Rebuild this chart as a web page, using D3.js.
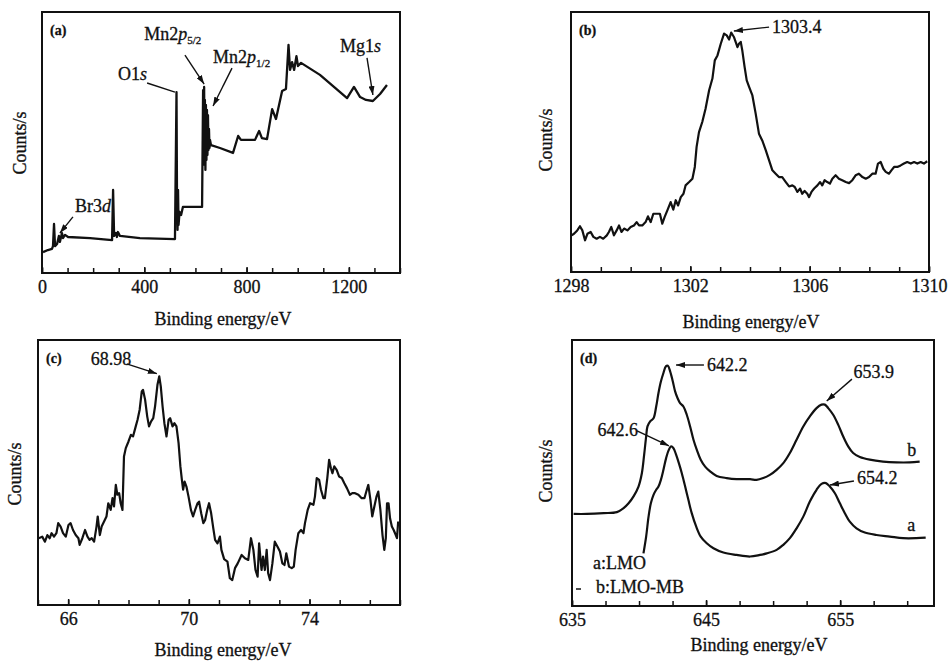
<!DOCTYPE html>
<html>
<head>
<meta charset="utf-8">
<script src="https://cdn.jsdelivr.net/npm/d3@7"></script>
<style>
  body { margin: 0; background: #fff; }
  text { font-family: "Liberation Serif", "Times New Roman", serif; fill: #111; stroke: #111; stroke-width: 0.3px; }
</style>
</head>
<body>
<svg id="fig" width="948" height="662"></svg>
<script>
// ---- data ----
// (a) survey spectrum
var aEnergy = [4,23,39,43,47,51,59,66,70,78,82,90,102,188,274,278,282,289,293,297,305,383,520,526,528,530,532,534,538,544,551,626,630,632,634,636,637,639,641,643,645,647,649,651,653,655,657,661,696,747,767,778,833,849,860,880,900,915,939,954,964,970,978,986,995,1001,1013,1087,1193,1220,1244,1267,1294,1322,1349];
var aCounts = [8.0,8.8,9.2,10.3,18.8,10.3,11.1,14.2,11.9,15.3,13.4,14.6,13.8,13.4,12.6,31.8,14.2,15.3,13.8,15.7,14.2,13.4,13.0,69.3,28.0,16.5,31.8,18.4,23.4,22.2,25.3,25.3,70.1,43.3,71.3,41.4,66.3,39.5,64.4,43.3,62.5,45.2,60.5,47.1,55.2,47.9,51.0,49.0,47.9,46.0,52.5,51.0,51.0,54.4,51.7,51.3,62.8,59.0,69.7,70.5,87.4,77.8,80.8,77.8,83.1,79.3,80.5,75.9,67.0,71.3,67.4,66.3,65.9,68.6,72.0];
var aTicks = [0, 400, 800, 1200];

// (b) Mg1s
var bEnergy = [1298.02,1298.10,1298.21,1298.30,1298.38,1298.47,1298.55,1298.66,1298.75,1298.86,1298.97,1299.08,1299.20,1299.27,1299.35,1299.44,1299.53,1299.61,1299.69,1299.78,1299.89,1300.00,1300.11,1300.20,1300.28,1300.39,1300.50,1300.58,1300.67,1300.76,1300.87,1300.98,1301.06,1301.14,1301.23,1301.34,1301.43,1301.51,1301.59,1301.68,1301.77,1301.84,1301.96,1302.07,1302.15,1302.21,1302.29,1302.40,1302.51,1302.63,1302.74,1302.82,1302.91,1303.02,1303.13,1303.22,1303.30,1303.37,1303.46,1303.58,1303.63,1303.69,1303.74,1303.82,1303.89,1303.97,1304.08,1304.19,1304.30,1304.41,1304.53,1304.64,1304.75,1304.86,1304.97,1305.08,1305.20,1305.31,1305.42,1305.50,1305.59,1305.68,1305.75,1305.83,1305.92,1305.98,1306.06,1306.15,1306.26,1306.35,1306.42,1306.50,1306.59,1306.68,1306.76,1306.87,1306.98,1307.09,1307.21,1307.32,1307.43,1307.54,1307.65,1307.77,1307.88,1307.99,1308.10,1308.21,1308.29,1308.38,1308.47,1308.55,1308.66,1308.74,1308.83,1308.94,1309.05,1309.16,1309.27,1309.39,1309.50,1309.61,1309.72,1309.83,1309.94];
var bCounts = [14.1,14.7,16.0,17.6,16.0,12.2,14.7,15.4,13.5,12.8,13.5,12.8,14.1,15.4,17.3,14.1,16.0,17.9,15.4,16.7,16.0,17.3,17.9,19.2,17.9,17.9,19.2,21.4,19.2,22.4,22.4,22.4,18.6,21.2,23.7,26.9,24.0,27.6,25.6,28.8,30.1,33.3,34.6,35.9,40.4,48.1,53.8,57.7,62.8,69.9,74.4,81.4,83.3,87.8,91.7,91.0,89.4,92.1,90.4,86.5,87.8,88.5,85.3,78.8,73.7,71.2,67.9,60.9,53.2,50.6,46.8,42.9,39.1,37.8,36.5,36.5,34.6,32.9,33.3,32.7,30.8,32.1,30.1,31.2,30.1,28.8,30.8,32.1,33.3,34.6,33.3,35.3,34.6,34.0,35.9,37.2,35.9,35.3,34.6,34.2,35.3,37.2,37.8,36.5,35.9,36.5,37.8,37.8,41.7,42.3,39.7,38.5,37.8,39.1,40.4,40.4,41.0,41.7,42.3,41.7,42.3,41.7,42.3,41.7,42.6];
var bTicks = [1298, 1302, 1306, 1310];

// (c) Br3d
var cEnergy = [65.03,65.14,65.23,65.31,65.39,65.45,65.53,65.61,65.67,65.75,65.83,65.92,66.01,66.08,66.16,66.25,66.34,66.38,66.47,66.56,66.64,66.71,66.78,66.86,66.94,66.98,67.05,67.11,67.19,67.27,67.33,67.41,67.47,67.52,67.58,67.63,67.69,67.74,67.80,67.85,67.91,68.00,68.08,68.15,68.24,68.30,68.37,68.44,68.48,68.55,68.62,68.68,68.75,68.82,68.88,68.96,69.02,69.07,69.13,69.19,69.26,69.33,69.38,69.46,69.52,69.59,69.66,69.72,69.77,69.81,69.86,69.92,69.99,70.07,70.14,70.21,70.29,70.34,70.41,70.48,70.54,70.61,70.67,70.74,70.81,70.87,70.95,71.03,71.08,71.17,71.28,71.36,71.44,71.53,71.62,71.75,71.86,71.97,72.06,72.14,72.21,72.28,72.33,72.41,72.46,72.52,72.58,72.63,72.69,72.77,72.85,72.94,73.02,73.10,73.17,73.23,73.32,73.41,73.48,73.54,73.63,73.72,73.80,73.85,73.94,74.02,74.13,74.18,74.24,74.32,74.38,74.46,74.51,74.59,74.65,74.71,74.76,74.82,74.90,74.98,75.07,75.15,75.24,75.34,75.42,75.51,75.62,75.73,75.82,75.90,75.95,76.02,76.08,76.15,76.22,76.28,76.35,76.42,76.48,76.53,76.57,76.62,76.67,76.73,76.79,76.86,76.90,76.94];
var cCounts = [25.2,25.8,23.9,26.4,25.2,27.1,25.8,27.1,30.9,29.6,27.1,25.8,30.2,30.9,28.3,26.4,25.2,22.7,25.2,28.3,25.8,24.6,25.2,23.9,29.6,33.4,26.4,29.6,31.5,33.4,38.4,35.9,40.3,37.2,45.3,41.6,42.2,38.4,35.9,56.0,59.2,61.7,64.2,63.6,67.4,69.9,73.7,80.6,81.2,77.5,71.2,67.4,69.3,70.5,74.9,83.1,86.3,82.5,74.9,68.6,63.6,69.9,70.5,67.4,68.6,67.4,61.1,52.3,47.2,43.5,46.6,44.7,40.9,35.9,33.4,35.9,38.4,39.0,34.6,30.9,32.1,35.9,38.4,34.6,29.0,24.6,23.3,25.8,20.8,17.3,16.4,10.1,9.4,13.9,15.7,18.9,17.6,17.0,25.2,20.8,13.2,10.7,23.3,13.2,18.3,13.2,20.8,12.0,9.4,15.7,23.9,22.0,20.2,15.7,15.1,19.5,14.5,13.9,14.5,20.8,27.1,28.3,27.1,30.9,35.9,38.4,37.8,40.9,47.9,47.2,43.5,40.3,40.3,47.9,54.8,51.6,49.7,52.3,51.0,48.5,47.9,46.0,44.1,41.6,42.2,42.2,41.6,40.3,40.3,43.5,45.3,39.7,33.4,37.2,40.9,42.8,35.9,26.4,20.8,25.2,38.4,38.4,32.7,29.6,28.3,26.4,25.2,31.5];
var cTicks = [66, 70, 74];

// (d) Mn2p, a: LMO, b: LMO-MB
var dEnergyA = [640.33,640.53,640.71,640.88,641.08,641.28,641.45,641.63,641.82,642.02,642.22,642.39,642.57,642.77,642.97,643.19,643.44,643.68,643.93,644.26,644.60,645.05,645.55,646.29,647.28,648.28,649.02,649.52,650.26,650.76,651.25,651.75,652.25,652.74,653.24,653.61,653.94,654.23,654.61,654.98,655.35,655.72,656.22,656.84,657.71,658.70,659.69,660.68,661.38];
var dCountsA = [19.8,26.1,33.6,38.6,41.8,43.7,44.9,47.4,51.2,55.6,58.7,60.0,59.3,56.8,53.7,49.9,44.9,39.9,34.9,29.9,26.1,23.6,21.7,20.1,19.2,18.6,19.2,19.8,21.1,23.0,25.5,29.2,33.6,39.3,43.7,45.9,46.2,44.9,42.4,38.6,34.9,31.7,29.2,27.6,26.7,26.1,25.5,25.5,25.7];
var dEnergyB = [635.12,636.12,637.36,638.35,638.85,639.22,639.59,639.96,640.21,640.38,640.53,640.63,640.83,641.08,641.28,641.45,641.63,641.82,642.00,642.15,642.32,642.52,642.69,642.87,643.06,643.31,643.56,643.81,644.06,644.31,644.60,644.93,645.30,645.79,646.54,647.28,648.28,648.77,649.27,649.76,650.26,650.76,651.25,651.75,652.25,652.74,653.24,653.61,653.86,654.11,654.48,654.86,655.23,655.60,655.97,656.47,657.21,658.20,659.19,660.19,660.93];
var dCountsB = [34.6,34.6,34.9,35.3,36.8,38.6,41.2,44.9,49.9,56.8,63.7,67.5,69.4,70.6,75.0,80.1,84.4,87.6,90.1,90.3,88.2,84.4,80.7,78.2,76.3,75.0,71.9,67.5,62.5,58.7,55.0,52.4,50.6,48.9,48.1,47.7,47.7,47.4,48.1,49.3,51.2,53.7,57.5,62.5,67.5,71.3,74.4,75.7,75.7,74.4,71.9,68.1,63.7,60.0,57.5,56.0,55.0,54.3,54.0,54.0,54.3];
var dTicks = [635, 645, 655];

// peak notes: label start + baseline, arrow from -> to (all in data units)
var aNotes = [
    {text: [["O1"], ["s", "i"]], tx: 297, ty: 73.9, from: [411, 72.8], to: [520, 69.3], arrow: false},
    {text: [["Mn2"], ["p", "i"], ["5/2", "sub"]], tx: 400, ty: 89.3, from: [559, 83.5], to: [634, 72.4], arrow: true},
    {text: [["Mn2"], ["p", "i"], ["1/2", "sub"]], tx: 669, ty: 80.5, from: [743, 78.5], to: [669, 64], arrow: true},
    {text: [["Mg1"], ["s", "i"]], tx: 1165, ty: 84.7, from: [1271, 82.4], to: [1294, 68.2], arrow: true},
    {text: [["Br3"], ["d", "i"]], tx: 129, ty: 23.4, from: [121, 21.5], to: [70, 15.3], arrow: true}
];
var bNotes = [
    {text: [["1303.4"]], tx: 1304.74, ty: 91.9, from: [1304.64, 94.2], to: [1303.46, 92.7], arrow: true}
];
var cNotes = [
    {text: [["68.98"]], tx: 66.75, ty: 90.7, from: [67.94, 91.0], to: [68.94, 87.3], arrow: true}
];
var dNotes = [
    {text: [["642.2"]], tx: 645.07, ty: 88.3, from: [644.84, 90.6], to: [642.76, 90.6], arrow: true},
    {text: [["653.9"]], tx: 656.0, ty: 85.7, from: [655.88, 85.3], to: [654.0, 77.1], arrow: true},
    {text: [["642.6"]], tx: 636.9, ty: 63.9, from: [639.85, 65.8], to: [642.23, 60.2], arrow: true},
    {text: [["654.2"]], tx: 656.25, ty: 45.9, from: [656.03, 47.0], to: [654.24, 45.5], arrow: true},
    {text: [["b"]], tx: 660.0, ty: 56.4},
    {text: [["a"]], tx: 660.0, ty: 28.2},
    {text: [["a:LMO"]], tx: 636.57, ty: 13.9},
    {text: [["b:LMO-MB"]], tx: 636.79, ty: 4.9}
];

(function () {
    var svg = d3.select('#fig');

    svg.append('defs').append('marker')
        .attr('id', 'head')
        .attr('markerUnits', 'userSpaceOnUse')
        .attr('markerWidth', 9).attr('markerHeight', 6)
        .attr('refX', 9).attr('refY', 3)
        .attr('orient', 'auto')
        .append('path').attr('d', 'M0,0 L9,3 L0,6 z').attr('fill', '#111');

    var panels = [
        {tag: '(a)', box: [42, 12, 400, 273], domain: [0, 1400], ticks: aTicks, minor: d3.range(0, 1401, 100),
            series: [[aEnergy, aCounts]], notes: aNotes, xt: [223, 325], yt: [20, 143], width: 2.3},
        {tag: '(b)', box: [571, 12, 929, 272], domain: [1298, 1310], ticks: bTicks, minor: d3.range(1298, 1311, 1),
            series: [[bEnergy, bCounts]], notes: bNotes, xt: [751, 328], yt: [546, 140], width: 2.2},
        {tag: '(c)', box: [38, 340, 400, 605], domain: [65, 77], ticks: cTicks, minor: d3.range(65, 78, 1),
            series: [[cEnergy, cCounts]], notes: cNotes, xt: [223, 656], yt: [15, 474], width: 2.2},
        {tag: '(d)', box: [572, 340, 934, 606], domain: [635, 662], ticks: dTicks, minor: d3.range(635, 662.1, 2.5),
            series: [[dEnergyA, dCountsA], [dEnergyB, dCountsB]], notes: dNotes, xt: [759, 651], yt: [546, 471], width: 2.2, smooth: true}
    ];

    panels.forEach(function (p) {
        var x0 = p.box[0], y0 = p.box[1], x1 = p.box[2], y1 = p.box[3];
        var xScale = d3.scaleLinear().domain(p.domain).range([x0, x1]);
        var yScale = d3.scaleLinear().domain([0, 100]).range([y1, y0]);
        var g = svg.append('g');

        // minor ticks (inward)
        g.append('g')
            .attr('transform', 'translate(0,' + y1 + ')')
            .call(d3.axisBottom(xScale).tickValues(p.minor).tickSize(-5).tickSizeOuter(0).tickFormat(''))
            .call(function (s) { s.select('.domain').remove(); })
            .selectAll('line').attr('stroke', '#111').attr('stroke-width', 1.5);

        // labelled ticks
        g.append('g')
            .attr('transform', 'translate(0,' + y1 + ')')
            .call(d3.axisBottom(xScale).tickValues(p.ticks).tickSize(-6).tickSizeOuter(0).tickPadding(7)
                .tickFormat(d3.format('d')))
            .call(function (s) {
                s.select('.domain').remove();
                s.selectAll('line').attr('stroke', '#111').attr('stroke-width', 1.5);
                s.selectAll('text').attr('font-size', 18).attr('font-family', '"Liberation Serif", serif').attr('fill', '#111');
            });

        // curves
        var line = d3.line()
            .x(function (d) { return xScale(d[0]); })
            .y(function (d) { return yScale(d[1]); })
            .curve(p.smooth ? d3.curveCatmullRom : d3.curveLinear);
        p.series.forEach(function (s) {
            g.append('path')
                .datum(d3.zip(s[0], s[1]))
                .attr('d', line)
                .attr('fill', 'none')
                .attr('stroke', '#111')
                .attr('stroke-width', p.width)
                .attr('stroke-linejoin', 'round');
        });

        // frame
        g.append('rect')
            .attr('x', x0).attr('y', y0)
            .attr('width', x1 - x0).attr('height', y1 - y0)
            .attr('fill', 'none').attr('stroke', '#111').attr('stroke-width', 2);

        // panel tag
        g.append('text')
            .attr('x', x0 + 8).attr('y', y0 + 23)
            .attr('font-size', 14).attr('font-weight', 'bold')
            .text(p.tag);

        // notes
        p.notes.forEach(function (n) {
            if (n.from) {
                g.append('line')
                    .attr('x1', xScale(n.from[0])).attr('y1', yScale(n.from[1]))
                    .attr('x2', xScale(n.to[0])).attr('y2', yScale(n.to[1]))
                    .attr('stroke', '#111').attr('stroke-width', 1.4)
                    .attr('marker-end', n.arrow ? 'url(#head)' : null);
            }
            var t = g.append('text')
                .attr('x', xScale(n.tx)).attr('y', yScale(n.ty))
                .attr('font-size', 18);
            n.text.forEach(function (part) {
                var sp = t.append('tspan').text(part[0]);
                if (part[1] === 'i') sp.attr('font-style', 'italic');
                if (part[1] === 'sub') sp.attr('font-size', 11).attr('dy', 4);
            });
        });

        // axis titles
        g.append('text')
            .attr('x', p.xt[0]).attr('y', p.xt[1])
            .attr('text-anchor', 'middle').attr('font-size', 18)
            .text('Binding energy/eV');
        g.append('text')
            .attr('transform', 'translate(' + (p.yt[0] + 6) + ',' + p.yt[1] + ') rotate(-90)')
            .attr('text-anchor', 'middle').attr('font-size', 18)
            .text('Counts/s');
    });

    // small legend mark in (d)
    svg.append('line')
        .attr('x1', 576).attr('x2', 581).attr('y1', 589).attr('y2', 589)
        .attr('stroke', '#111').attr('stroke-width', 1.5);
})();
</script>
</body>
</html>
